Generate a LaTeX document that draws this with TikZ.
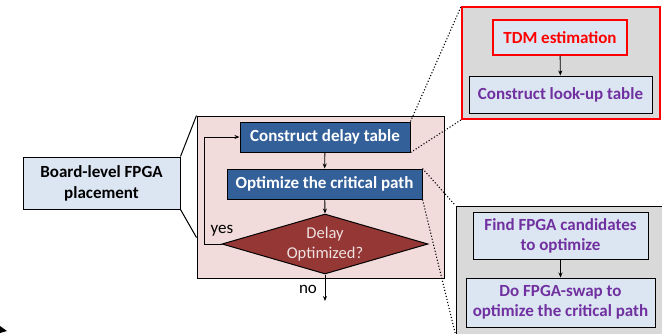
\documentclass[tikz,border=0pt]{standalone}
\usepackage{fontspec}
\setmainfont{Carlito}
\usetikzlibrary{arrows.meta,shapes.geometric}
\definecolor{pinkbg}{HTML}{F2DCDB}
\definecolor{darkblue}{HTML}{34609A}
\definecolor{lightblue}{HTML}{DCE6F2}
\definecolor{darkred}{HTML}{953735}
\definecolor{purp}{HTML}{7030A0}
\definecolor{graybg}{HTML}{D9D9D9}
\definecolor{redc}{HTML}{FF0000}
\tikzset{
  blk/.style={draw=black, line width=1pt},
  bluebox/.style={blk, fill=darkblue, text=white, inner sep=0pt, font=\bfseries\fontsize{17}{20}\selectfont},
  lbbox/.style={blk, fill=lightblue, text=purp, align=center, inner sep=0pt, font=\bfseries\fontsize{17}{20}\selectfont},
  arr/.style={-{Stealth[length=5pt,width=4pt]}, line width=0.9pt},
  dots/.style={dotted, line width=1.1pt},
}
\begin{document}
\begin{tikzpicture}[x=1pt,y=-1pt]
\useasboundingbox (0,0) rectangle (662,333);
% left box
\node[blk, fill=lightblue, minimum width=157pt, minimum height=52pt, align=center, inner sep=0pt,
  font=\bfseries\fontsize{17}{21}\selectfont] (board) at (101.5,183) {Board-level FPGA\\placement};
% pink container
\node[blk, fill=pinkbg, minimum width=247pt, minimum height=162pt] (pink) at (320.5,197) {};
\draw[line width=1pt] (board.north east) -- (pink.north west);
\draw[line width=1pt] (board.south east) -- ([yshift=-122pt]pink.north west);
% blue boxes
\node[bluebox, minimum width=170pt, minimum height=30pt] (cdt) at (325,137) {Construct delay table};
\node[bluebox, minimum width=195pt, minimum height=30pt] (opt) at (324.5,184) {Optimize the critical path};
\node[draw=black, line width=1pt, fill=darkred, diamond, aspect=3.4, minimum width=206pt, minimum height=60pt,
  inner sep=0pt, text=white!85!darkred, align=center, font=\fontsize{16.5}{20}\selectfont] (dec) at (325,244) {Delay\\Optimized?};
\coordinate (noend) at (325,301);
\coordinate (loopA) at (204,244);
\coordinate (loopB) at (204,137);
\draw[arr] (cdt) -- (opt);
\draw[arr] (opt) -- (dec.north);
\draw[arr] (dec.south) -- (noend);
\draw[arr] (dec.west) -- (loopA) -- (loopB) -- (cdt.west);
\node[font=\fontsize{17}{20}\selectfont, anchor=base] (yes) at (222,233) {yes};
\node[font=\fontsize{17}{20}\selectfont, anchor=base] (no) at (308,293) {no};
% top-right red box
\node[draw=redc, line width=1.6pt, fill=graybg, minimum width=198pt, minimum height=112pt] (rbox) at (561,63) {};
\node[draw=redc, line width=1.3pt, fill=lightblue, text=redc, minimum width=134pt, minimum height=35pt, inner sep=0pt,
  font=\bfseries\fontsize{17}{20}\selectfont] (tdm) at (560,37.5) {TDM estimation};
\node[lbbox, minimum width=183pt, minimum height=37pt] (clt) at (560.5,94.5) {Construct look-up table};
\draw[arr] (tdm) -- (clt);
% bottom-right gray box
\node[blk, fill=graybg, minimum width=206pt, minimum height=128pt] (gbox) at (559,270) {};
\node[lbbox, minimum width=175pt, minimum height=47pt] (find) at (560.5,235.5) {Find FPGA candidates\\to optimize};
\node[lbbox, minimum width=189pt, minimum height=49pt] (swap) at (560.5,302.5) {Do FPGA-swap to\\optimize the critical path};
\draw[arr] (find) -- (swap);
% dotted zoom lines
\draw[dots] (cdt.north east) -- (rbox.north west);
\draw[dots] (cdt.south east) -- (rbox.south west);
\draw[dots] (opt.north east) -- (gbox.north west);
\draw[dots] (opt.south east) -- (gbox.south west);
% small mark bottom left
\fill (0,326) -- (7,331) -- (0,333) -- cycle;
\end{tikzpicture}
\end{document}
